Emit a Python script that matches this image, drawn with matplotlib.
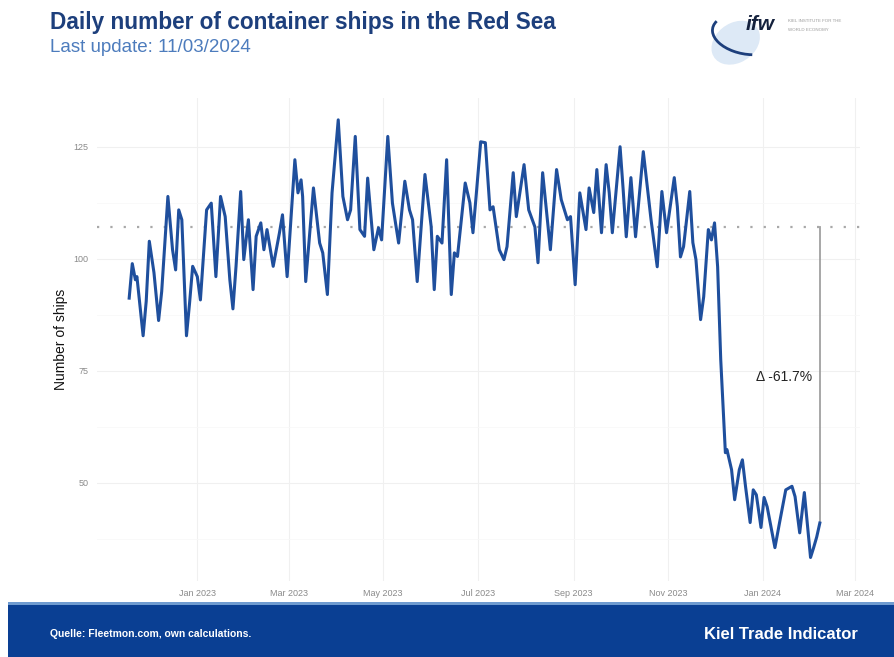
import matplotlib
matplotlib.use("Agg")
import matplotlib.pyplot as plt
import matplotlib.dates as mdates
import matplotlib.patches as mpatches
import numpy as np
import pandas as pd

plt.rcParams['font.family'] = ['Liberation Sans', 'DejaVu Sans']

# ---- data (turning points of the daily series) ----
dates = [
    "2022-11-18", "2022-11-20", "2022-11-22", "2022-11-23", "2022-11-27", "2022-11-29",
    "2022-12-01", "2022-12-04", "2022-12-07", "2022-12-09", "2022-12-13", "2022-12-16",
    "2022-12-18", "2022-12-20", "2022-12-22", "2022-12-25", "2022-12-27", "2022-12-29",
    "2023-01-01", "2023-01-03", "2023-01-07", "2023-01-10", "2023-01-13", "2023-01-16",
    "2023-01-19", "2023-01-22", "2023-01-24", "2023-01-26", "2023-01-29", "2023-01-31",
    "2023-02-03", "2023-02-06", "2023-02-08", "2023-02-11", "2023-02-13", "2023-02-15",
    "2023-02-19", "2023-02-23", "2023-02-25", "2023-02-28", "2023-03-05", "2023-03-07",
    "2023-03-09", "2023-03-10", "2023-03-12", "2023-03-17", "2023-03-21", "2023-03-23",
    "2023-03-26", "2023-03-29", "2023-04-02", "2023-04-05", "2023-04-08", "2023-04-10",
    "2023-04-13", "2023-04-16", "2023-04-19", "2023-04-21", "2023-04-25", "2023-04-28",
    "2023-04-30", "2023-05-04", "2023-05-07", "2023-05-11", "2023-05-15", "2023-05-18",
    "2023-05-20", "2023-05-23", "2023-05-28", "2023-06-01", "2023-06-03", "2023-06-05",
    "2023-06-08", "2023-06-11", "2023-06-14", "2023-06-16", "2023-06-18", "2023-06-23",
    "2023-06-26", "2023-06-28", "2023-06-30", "2023-07-03", "2023-07-06", "2023-07-09",
    "2023-07-11", "2023-07-15", "2023-07-18", "2023-07-20", "2023-07-24", "2023-07-26",
    "2023-07-31", "2023-08-03", "2023-08-07", "2023-08-09", "2023-08-12", "2023-08-17",
    "2023-08-21", "2023-08-24", "2023-08-28", "2023-08-30", "2023-09-02", "2023-09-05",
    "2023-09-09", "2023-09-11", "2023-09-14", "2023-09-16", "2023-09-19", "2023-09-22",
    "2023-09-24", "2023-09-26", "2023-10-01", "2023-10-03", "2023-10-05", "2023-10-08",
    "2023-10-11", "2023-10-16", "2023-10-19", "2023-10-21", "2023-10-25", "2023-10-28",
    "2023-10-31", "2023-11-05", "2023-11-07", "2023-11-09", "2023-11-11", "2023-11-15",
    "2023-11-17", "2023-11-19", "2023-11-22", "2023-11-24", "2023-11-27", "2023-11-29",
    "2023-12-01", "2023-12-03", "2023-12-05", "2023-12-08", "2023-12-09", "2023-12-12",
    "2023-12-14", "2023-12-17", "2023-12-19", "2023-12-21", "2023-12-24", "2023-12-26",
    "2023-12-28", "2023-12-31", "2024-01-02", "2024-01-04", "2024-01-09", "2024-01-12",
    "2024-01-16", "2024-01-20", "2024-01-22", "2024-01-25", "2024-01-28", "2024-02-01",
    "2024-02-03", "2024-02-05", "2024-02-07",
]
ships = [
    91.2, 98.9, 95.3, 96.0, 82.8, 90.5,
    103.9, 96.9, 86.2, 92.7, 113.9, 102.0,
    97.5, 110.9, 108.7, 82.8, 90.1, 98.3,
    96.0, 90.8, 110.9, 112.4, 96.0, 113.9,
    109.4, 95.3, 88.8, 98.3, 115.0, 99.8,
    108.7, 93.1, 105.0, 108.0, 102.0, 106.5,
    98.3, 105.7, 109.8, 96.0, 122.1, 114.7,
    117.6, 113.9, 94.9, 115.8, 103.5, 101.3,
    92.0, 114.7, 131.0, 113.9, 108.7, 110.9,
    127.3, 106.5, 105.0, 118.0, 102.0, 106.9,
    104.2, 127.3, 112.4, 103.5, 117.3, 110.9,
    108.7, 94.9, 118.8, 107.2, 93.1, 105.0,
    103.5, 122.1, 92.0, 101.3, 100.5, 116.9,
    112.5, 105.8, 113.8, 126.1, 125.9, 110.9,
    111.6, 102.0, 99.8, 102.7, 119.2, 109.4,
    121.0, 110.9, 107.1, 99.1, 119.2, 102.0,
    119.9, 113.2, 108.7, 109.4, 94.2, 114.7,
    106.5, 115.8, 110.3, 119.9, 105.8, 121.0,
    114.7, 105.8, 125.0, 115.4, 104.9, 118.1,
    104.9, 123.9, 114.7, 108.7, 98.2, 115.0,
    105.8, 118.1, 111.6, 100.4, 102.7, 115.0,
    103.6, 99.8, 86.4, 91.5, 106.5, 104.2,
    108.0, 98.2, 77.5, 56.7, 57.4, 52.9,
    46.2, 52.9, 55.1, 49.2, 41.1, 48.4,
    47.3, 40.0, 46.7, 44.6, 35.5, 41.1,
    48.4, 49.2, 46.9, 38.8, 47.8, 33.3,
    35.5, 37.9, 41.0,
]
baseline = 107.1
change_label = "Δ -61.7%"
y_ticks = [50, 75, 100, 125]
x_tick_dates = ["2023-01-01", "2023-03-01", "2023-05-01", "2023-07-01",
                "2023-09-01", "2023-11-01", "2024-01-01", "2024-03-01"]

title = "Daily number of container ships in the Red Sea"
subtitle = "Last update: 11/03/2024"
source = "Quelle: Fleetmon.com, own calculations."
brand = "Kiel Trade Indicator"

# ---- figure ----
fig = plt.figure(figsize=(8.95, 6.57), dpi=100)
ax = fig.add_axes([0.108, 0.116, 0.853, 0.735])

x = pd.to_datetime(dates)
ax.plot(x, ships, color="#1f4f9d", lw=2.2, solid_joinstyle="round", zorder=3)

x0 = pd.Timestamp("2022-10-28")
x1 = pd.Timestamp("2024-03-04")
ax.set_xlim(x0, x1)
ax.set_ylim(28.1, 135.9)

# reference dotted line and change bar
ax.axhline(baseline, color="#a8a8a8", lw=1.6, ls=(0, (1, 5)), zorder=2)
ax.plot([x[-1], x[-1]], [ships[-1], baseline], color="#a0a0a0", lw=1.3, zorder=2)
ax.text(pd.Timestamp("2024-02-02"), 73.5, change_label, ha="right", va="center",
        fontsize=10, color="#222222")

# axes styling
for s in ax.spines.values():
    s.set_visible(False)
ax.set_yticks(y_ticks)
ax.set_yticks([37.5, 62.5, 87.5, 112.5], minor=True)
ax.set_xticks(pd.to_datetime(x_tick_dates))
ax.xaxis.set_major_formatter(mdates.DateFormatter("%b %Y"))
ax.tick_params(axis="both", which="both", length=0, labelsize=6.5, colors="#8a8a8a", pad=6)
ax.grid(True, which="major", color="#f0f0f0", lw=0.8)
ax.grid(True, which="minor", axis="y", color="#f8f8f8", lw=0.6)
ax.set_ylabel("Number of ships", fontsize=10, color="#111111", labelpad=4)

# titles
fig.text(0.056, 0.965, title, fontsize=16.3, fontweight="bold", color="#1d3f7c",
         ha="left", va="center")
fig.text(0.056, 0.928, subtitle, fontsize=13.5, color="#4d7cbd", ha="left", va="center")

# logo (approximation)
logo = mpatches.Ellipse((0.822, 0.935), 0.05, 0.07, angle=-25, transform=fig.transFigure,
                        facecolor="#dde9f6", edgecolor="none", zorder=1)
fig.patches.append(logo)
arc = mpatches.Arc((0.835, 0.948), 0.08, 0.06, angle=-20, theta1=170, theta2=300,
                   transform=fig.transFigure, color="#1d3f7c", lw=2.0)
fig.patches.append(arc)
fig.text(0.833, 0.962, "ifw", fontsize=15, fontweight="bold", style="italic",
         color="#14213d", ha="left", va="center")
fig.text(0.88, 0.968, "KIEL INSTITUTE FOR THE", fontsize=3.2, color="#9a9a9a",
         ha="left", va="center")
fig.text(0.88, 0.955, "WORLD ECONOMY", fontsize=3.2, color="#9a9a9a",
         ha="left", va="center")

# footer band
fig.patches.append(mpatches.Rectangle((0.009, 0.0), 0.991, 0.079, transform=fig.transFigure,
                                      facecolor="#0a3f93", edgecolor="none", zorder=0))
fig.patches.append(mpatches.Rectangle((0.009, 0.079), 0.991, 0.004, transform=fig.transFigure,
                                      facecolor="#6f9bd0", edgecolor="none", zorder=0))
fig.text(0.056, 0.035, source, fontsize=7.5, fontweight="bold", color="white",
         family=["Liberation Sans Narrow", "Liberation Sans"], ha="left", va="center")
fig.text(0.958, 0.035, brand, fontsize=12, fontweight="bold", color="white",
         family=["Liberation Sans Narrow", "Liberation Sans"], ha="right", va="center")

fig.savefig("out.png", dpi=100)
